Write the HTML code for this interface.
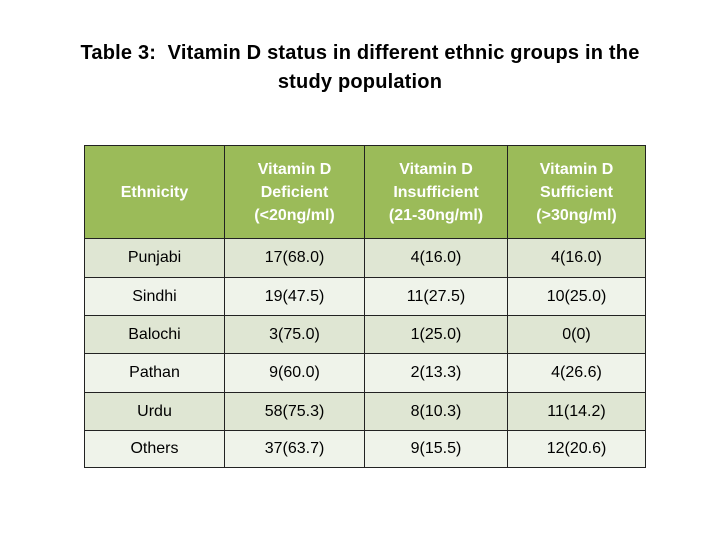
<!DOCTYPE html>
<html><head><meta charset="utf-8"><style>
body{margin:0;width:720px;height:540px;background:#fff;font-family:"Liberation Sans",sans-serif;position:relative;overflow:hidden}
#title{position:absolute;left:0;width:720px;top:39px;text-align:center;font-size:20px;font-weight:bold;line-height:29px;color:#000;letter-spacing:0.2px}
table{position:absolute;left:84px;top:145px;border-collapse:collapse}
td{border:1px solid #222;text-align:center;font-size:16px;color:#000;padding:0}
tr.h td{background:#9bbb59;color:#fff;height:92px;line-height:23px;font-weight:bold}
tr.a td{background:#dfe6d3}
tr.b td{background:#eff3ea}
</style></head><body>
<div id="title">Table 3:&nbsp; Vitamin D status in different ethnic groups in the<br>study population</div>
<table>
<colgroup><col style="width:140px"><col style="width:140px"><col style="width:143px"><col style="width:138px"></colgroup>
<tr class="h"><td>Ethnicity</td><td>Vitamin D<br>Deficient<br>(&lt;20ng/ml)</td><td>Vitamin D<br>Insufficient<br>(21-30ng/ml)</td><td>Vitamin D<br>Sufficient<br>(&gt;30ng/ml)</td></tr>
<tr class="a" style="height:39px"><td>Punjabi</td><td>17(68.0)</td><td>4(16.0)</td><td>4(16.0)</td></tr>
<tr class="b" style="height:38px"><td>Sindhi</td><td>19(47.5)</td><td>11(27.5)</td><td>10(25.0)</td></tr>
<tr class="a" style="height:38px"><td>Balochi</td><td>3(75.0)</td><td>1(25.0)</td><td>0(0)</td></tr>
<tr class="b" style="height:39px"><td>Pathan</td><td>9(60.0)</td><td>2(13.3)</td><td>4(26.6)</td></tr>
<tr class="a" style="height:38px"><td>Urdu</td><td>58(75.3)</td><td>8(10.3)</td><td>11(14.2)</td></tr>
<tr class="b" style="height:37px"><td>Others</td><td>37(63.7)</td><td>9(15.5)</td><td>12(20.6)</td></tr>
</table>
</body></html>
